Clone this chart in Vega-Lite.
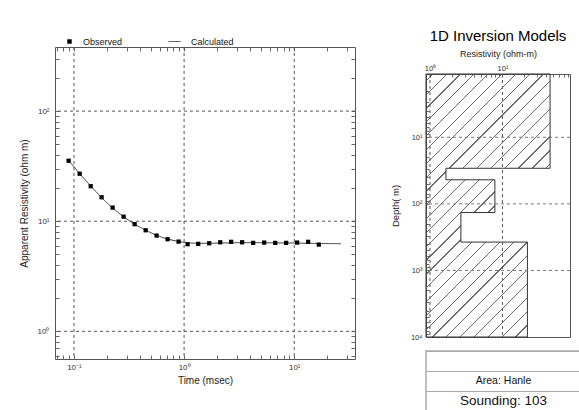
{
  "$schema": "https://vega.github.io/schema/vega-lite/v6.json",
  "background": "white",
  "padding": {"left": 18, "top": 28, "right": 0, "bottom": 0},
  "config": {
    "font": "Liberation Sans",
    "axis": {"domain": false, "labelColor": "#333", "tickColor": "#666", "titleFontWeight": "normal", "titleColor": "#222", "labelOverlap": false, "labelFlush": false, "labelBound": false},
    "title": {"fontWeight": "normal", "font": "Liberation Sans"}
  },
  "datasets": {
    "observed": [
      {"t": 0.0895, "rho": 35.4},
      {"t": 0.1127, "rho": 27.0},
      {"t": 0.1419, "rho": 20.8},
      {"t": 0.1783, "rho": 16.5},
      {"t": 0.2244, "rho": 13.3},
      {"t": 0.2825, "rho": 11.0},
      {"t": 0.3556, "rho": 9.40},
      {"t": 0.4477, "rho": 8.28},
      {"t": 0.5627, "rho": 7.41},
      {"t": 0.7083, "rho": 6.86},
      {"t": 0.8914, "rho": 6.53},
      {"t": 1.076, "rho": 6.18},
      {"t": 1.343, "rho": 6.23},
      {"t": 1.690, "rho": 6.31},
      {"t": 2.128, "rho": 6.44},
      {"t": 2.673, "rho": 6.50},
      {"t": 3.365, "rho": 6.44},
      {"t": 4.236, "rho": 6.36},
      {"t": 5.333, "rho": 6.40},
      {"t": 6.714, "rho": 6.36},
      {"t": 8.441, "rho": 6.36},
      {"t": 10.62, "rho": 6.40},
      {"t": 13.36, "rho": 6.50},
      {"t": 16.71, "rho": 6.14}
    ],
    "calculated": [
      {"t": 0.0859, "rho": 36.4},
      {"t": 0.0895, "rho": 35.2},
      {"t": 0.1127, "rho": 27.1},
      {"t": 0.1419, "rho": 20.9},
      {"t": 0.1783, "rho": 16.4},
      {"t": 0.2244, "rho": 13.2},
      {"t": 0.2825, "rho": 11.0},
      {"t": 0.3556, "rho": 9.4},
      {"t": 0.4477, "rho": 8.3},
      {"t": 0.5627, "rho": 7.45},
      {"t": 0.7083, "rho": 6.9},
      {"t": 0.8914, "rho": 6.55},
      {"t": 1.076, "rho": 6.38},
      {"t": 1.343, "rho": 6.3},
      {"t": 1.690, "rho": 6.3},
      {"t": 2.128, "rho": 6.34},
      {"t": 2.673, "rho": 6.37},
      {"t": 3.365, "rho": 6.39},
      {"t": 4.236, "rho": 6.39},
      {"t": 5.333, "rho": 6.38},
      {"t": 6.714, "rho": 6.36},
      {"t": 8.441, "rho": 6.35},
      {"t": 10.62, "rho": 6.33},
      {"t": 13.36, "rho": 6.3},
      {"t": 16.71, "rho": 6.28},
      {"t": 26.5, "rho": 6.25}
    ],
    "model": [
      {"res": 45.4, "depth": 1.12},
      {"res": 45.4, "depth": 29.2},
      {"res": 1.66, "depth": 29.2},
      {"res": 1.66, "depth": 43.5},
      {"res": 7.86, "depth": 43.5},
      {"res": 7.86, "depth": 135},
      {"res": 2.67, "depth": 135},
      {"res": 2.67, "depth": 375},
      {"res": 22.1, "depth": 375},
      {"res": 22.1, "depth": 10000}
    ],
    "table": [
      {"row": "r1", "label": ""},
      {"row": "r2", "label": "Area: Hanle"},
      {"row": "r3", "label": "Sounding: 103"}
    ]
  },
  "hconcat": [
    {
      "width": 300,
      "height": 312,
      "view": {"stroke": "#555", "strokeWidth": 1},
      "layer": [
        {
          "data": {"values": [{"g": 0.1}, {"g": 1}, {"g": 10}]},
          "mark": {"type": "rule", "strokeDash": [3, 3], "color": "#555", "strokeWidth": 1},
          "encoding": {
            "x": {"field": "g", "type": "quantitative",
              "scale": {"type": "log", "domain": [0.0673, 35.6], "nice": false},
              "axis": {"orient": "top", "values": [0.07,0.08,0.09,0.1,0.2,0.3,0.4,0.5,0.6,0.7,0.8,0.9,1,2,3,4,5,6,7,8,9,10,20,30], "labels": false, "tickSize": -4, "grid": false, "title": null}}
          }
        },
        {
          "data": {"values": [{"g": 1}, {"g": 10}, {"g": 100}]},
          "mark": {"type": "rule", "strokeDash": [3, 3], "color": "#555", "strokeWidth": 1},
          "encoding": {
            "y": {"field": "g", "type": "quantitative",
              "scale": {"type": "log", "domain": [0.561, 382], "nice": false},
              "axis": {"orient": "right", "values": [0.6,0.7,0.8,0.9,1,2,3,4,5,6,7,8,9,10,20,30,40,50,60,70,80,90,100,200,300], "labels": false, "tickSize": -4, "grid": false, "title": null}}
          }
        },
        {
          "data": {"name": "calculated"},
          "mark": {"type": "line", "color": "#333", "strokeWidth": 1, "interpolate": "monotone"},
          "encoding": {
            "x": {"field": "t", "type": "quantitative", "scale": {"type": "log", "domain": [0.0673, 35.6], "nice": false}, "axis": null},
            "y": {"field": "rho", "type": "quantitative", "scale": {"type": "log", "domain": [0.561, 382], "nice": false}, "axis": null},
            "strokeDash": {"datum": "Calculated", "scale": {"domain": ["Calculated"], "range": [[1, 0]]},
              "legend": {"orient": "none", "legendX": 113, "legendY": -12, "title": null, "labelFontSize": 9, "labelColor": "#111",
                "symbolType": "stroke", "symbolSize": 144, "symbolStrokeWidth": 1, "symbolStrokeColor": "#333", "labelOffset": 10}}
          }
        },
        {
          "data": {"name": "observed"},
          "mark": {"type": "point", "filled": true, "color": "#000", "size": 18, "opacity": 1},
          "encoding": {
            "x": {"field": "t", "type": "quantitative",
              "scale": {"type": "log", "domain": [0.0673, 35.6], "nice": false},
              "axis": {"orient": "bottom", "title": "Time (msec)", "titleFontSize": 10, "titlePadding": 4,
                "values": [0.07,0.08,0.09,0.1,0.2,0.3,0.4,0.5,0.6,0.7,0.8,0.9,1,2,3,4,5,6,7,8,9,10,20,30],
                "labelExpr": "datum.value == 0.1 ? '10⁻¹' : datum.value == 1 ? '10⁰' : datum.value == 10 ? '10¹' : ''",
                "labelFontSize": 8, "tickSize": -4, "labelPadding": 8, "grid": false}},
            "y": {"field": "rho", "type": "quantitative",
              "scale": {"type": "log", "domain": [0.561, 382], "nice": false},
              "axis": {"orient": "left", "title": "Apparent Resistivity (ohm m)", "titleFontSize": 10, "titlePadding": 8,
                "values": [0.6,0.7,0.8,0.9,1,2,3,4,5,6,7,8,9,10,20,30,40,50,60,70,80,90,100,200,300],
                "labelExpr": "datum.value == 1 ? '10⁰' : datum.value == 10 ? '10¹' : datum.value == 100 ? '10²' : ''",
                "labelFontSize": 8, "tickSize": -4, "labelPadding": 10, "grid": false}},
            "shape": {"datum": "Observed", "scale": {"domain": ["Observed"], "range": ["square"]},
              "legend": {"orient": "none", "legendX": 10, "legendY": -10, "title": null, "labelFontSize": 9, "labelColor": "#111",
                "symbolSize": 20, "symbolFillColor": "#000", "symbolStrokeWidth": 0, "labelOffset": 9}}
          }
        }
      ],
      "resolve": {"axis": {"x": "independent", "y": "independent"}}
    },
    {
      "vconcat": [
        {
          "title": {"text": "1D Inversion Models", "fontSize": 15, "color": "#000", "offset": -2},
          "width": 144,
          "height": 1,
          "data": {"values": [{"a": 1}]},
          "view": {"stroke": null},
          "mark": {"type": "text", "text": ""},
          "encoding": {}
        },
        {
          "width": 144,
          "height": 263,
          "view": {"stroke": "#555", "strokeWidth": 1},
          "layer": [
            {
              "data": {"name": "model"},
              "mark": {"type": "area", "orient": "horizontal", "stroke": "#333", "strokeWidth": 1,
                "fill": {"gradient": "linear", "x1": 0, "y1": 0, "x2": 0.568, "y2": 1.204,
                  "stops": [
                    {"offset": 0, "color": "rgba(255,255,255,0)"},
                    {"offset": 0.0162, "color": "rgba(255,255,255,0)"}, {"offset": 0.0162, "color": "#6a6a6a"}, {"offset": 0.0194, "color": "#6a6a6a"}, {"offset": 0.0194, "color": "rgba(255,255,255,0)"},
                    {"offset": 0.0519, "color": "rgba(255,255,255,0)"}, {"offset": 0.0519, "color": "#6a6a6a"}, {"offset": 0.0551, "color": "#6a6a6a"}, {"offset": 0.0551, "color": "rgba(255,255,255,0)"},
                    {"offset": 0.0876, "color": "rgba(255,255,255,0)"}, {"offset": 0.0876, "color": "#6a6a6a"}, {"offset": 0.0908, "color": "#6a6a6a"}, {"offset": 0.0908, "color": "rgba(255,255,255,0)"},
                    {"offset": 0.1233, "color": "rgba(255,255,255,0)"}, {"offset": 0.1233, "color": "#6a6a6a"}, {"offset": 0.1265, "color": "#6a6a6a"}, {"offset": 0.1265, "color": "rgba(255,255,255,0)"},
                    {"offset": 0.159, "color": "rgba(255,255,255,0)"}, {"offset": 0.159, "color": "#6a6a6a"}, {"offset": 0.1622, "color": "#6a6a6a"}, {"offset": 0.1622, "color": "rgba(255,255,255,0)"},
                    {"offset": 0.1947, "color": "rgba(255,255,255,0)"}, {"offset": 0.1947, "color": "#6a6a6a"}, {"offset": 0.1979, "color": "#6a6a6a"}, {"offset": 0.1979, "color": "rgba(255,255,255,0)"},
                    {"offset": 0.2304, "color": "rgba(255,255,255,0)"}, {"offset": 0.2304, "color": "#6a6a6a"}, {"offset": 0.2336, "color": "#6a6a6a"}, {"offset": 0.2336, "color": "rgba(255,255,255,0)"},
                    {"offset": 0.2662, "color": "rgba(255,255,255,0)"}, {"offset": 0.2662, "color": "#6a6a6a"}, {"offset": 0.2694, "color": "#6a6a6a"}, {"offset": 0.2694, "color": "rgba(255,255,255,0)"},
                    {"offset": 0.3019, "color": "rgba(255,255,255,0)"}, {"offset": 0.3019, "color": "#6a6a6a"}, {"offset": 0.3051, "color": "#6a6a6a"}, {"offset": 0.3051, "color": "rgba(255,255,255,0)"},
                    {"offset": 0.3376, "color": "rgba(255,255,255,0)"}, {"offset": 0.3376, "color": "#6a6a6a"}, {"offset": 0.3408, "color": "#6a6a6a"}, {"offset": 0.3408, "color": "rgba(255,255,255,0)"},
                    {"offset": 0.3733, "color": "rgba(255,255,255,0)"}, {"offset": 0.3733, "color": "#6a6a6a"}, {"offset": 0.3765, "color": "#6a6a6a"}, {"offset": 0.3765, "color": "rgba(255,255,255,0)"},
                    {"offset": 0.409, "color": "rgba(255,255,255,0)"}, {"offset": 0.409, "color": "#6a6a6a"}, {"offset": 0.4122, "color": "#6a6a6a"}, {"offset": 0.4122, "color": "rgba(255,255,255,0)"},
                    {"offset": 0.4447, "color": "rgba(255,255,255,0)"}, {"offset": 0.4447, "color": "#6a6a6a"}, {"offset": 0.4479, "color": "#6a6a6a"}, {"offset": 0.4479, "color": "rgba(255,255,255,0)"},
                    {"offset": 0.4804, "color": "rgba(255,255,255,0)"}, {"offset": 0.4804, "color": "#6a6a6a"}, {"offset": 0.4836, "color": "#6a6a6a"}, {"offset": 0.4836, "color": "rgba(255,255,255,0)"},
                    {"offset": 0.5162, "color": "rgba(255,255,255,0)"}, {"offset": 0.5162, "color": "#6a6a6a"}, {"offset": 0.5194, "color": "#6a6a6a"}, {"offset": 0.5194, "color": "rgba(255,255,255,0)"},
                    {"offset": 0.5519, "color": "rgba(255,255,255,0)"}, {"offset": 0.5519, "color": "#6a6a6a"}, {"offset": 0.5551, "color": "#6a6a6a"}, {"offset": 0.5551, "color": "rgba(255,255,255,0)"},
                    {"offset": 0.5876, "color": "rgba(255,255,255,0)"}, {"offset": 0.5876, "color": "#6a6a6a"}, {"offset": 0.5908, "color": "#6a6a6a"}, {"offset": 0.5908, "color": "rgba(255,255,255,0)"},
                    {"offset": 0.6233, "color": "rgba(255,255,255,0)"}, {"offset": 0.6233, "color": "#6a6a6a"}, {"offset": 0.6265, "color": "#6a6a6a"}, {"offset": 0.6265, "color": "rgba(255,255,255,0)"},
                    {"offset": 0.659, "color": "rgba(255,255,255,0)"}, {"offset": 0.659, "color": "#6a6a6a"}, {"offset": 0.6622, "color": "#6a6a6a"}, {"offset": 0.6622, "color": "rgba(255,255,255,0)"},
                    {"offset": 0.6947, "color": "rgba(255,255,255,0)"}, {"offset": 0.6947, "color": "#6a6a6a"}, {"offset": 0.6979, "color": "#6a6a6a"}, {"offset": 0.6979, "color": "rgba(255,255,255,0)"},
                    {"offset": 0.7304, "color": "rgba(255,255,255,0)"}, {"offset": 0.7304, "color": "#6a6a6a"}, {"offset": 0.7336, "color": "#6a6a6a"}, {"offset": 0.7336, "color": "rgba(255,255,255,0)"},
                    {"offset": 0.7662, "color": "rgba(255,255,255,0)"}, {"offset": 0.7662, "color": "#6a6a6a"}, {"offset": 0.7694, "color": "#6a6a6a"}, {"offset": 0.7694, "color": "rgba(255,255,255,0)"},
                    {"offset": 0.8019, "color": "rgba(255,255,255,0)"}, {"offset": 0.8019, "color": "#6a6a6a"}, {"offset": 0.8051, "color": "#6a6a6a"}, {"offset": 0.8051, "color": "rgba(255,255,255,0)"},
                    {"offset": 0.8376, "color": "rgba(255,255,255,0)"}, {"offset": 0.8376, "color": "#6a6a6a"}, {"offset": 0.8408, "color": "#6a6a6a"}, {"offset": 0.8408, "color": "rgba(255,255,255,0)"},
                    {"offset": 0.8733, "color": "rgba(255,255,255,0)"}, {"offset": 0.8733, "color": "#6a6a6a"}, {"offset": 0.8765, "color": "#6a6a6a"}, {"offset": 0.8765, "color": "rgba(255,255,255,0)"},
                    {"offset": 0.909, "color": "rgba(255,255,255,0)"}, {"offset": 0.909, "color": "#6a6a6a"}, {"offset": 0.9122, "color": "#6a6a6a"}, {"offset": 0.9122, "color": "rgba(255,255,255,0)"},
                    {"offset": 0.9447, "color": "rgba(255,255,255,0)"}, {"offset": 0.9447, "color": "#6a6a6a"}, {"offset": 0.9479, "color": "#6a6a6a"}, {"offset": 0.9479, "color": "rgba(255,255,255,0)"},
                    {"offset": 0.9804, "color": "rgba(255,255,255,0)"}, {"offset": 0.9804, "color": "#6a6a6a"}, {"offset": 0.9836, "color": "#6a6a6a"}, {"offset": 0.9836, "color": "rgba(255,255,255,0)"},
                    {"offset": 1, "color": "rgba(255,255,255,0)"}
                  ]}},
              "encoding": {
                "x": {"field": "res", "type": "quantitative",
                  "scale": {"type": "log", "domain": [0.881, 85.5], "nice": false},
                  "axis": {"orient": "top", "title": "Resistivity (ohm-m)", "titleFontSize": 9, "titlePadding": 6,
                    "values": [1,2,3,4,5,6,7,8,9,10,20,30,40,50,60,70,80],
                    "labelExpr": "datum.value == 1 ? '10⁰' : datum.value == 10 ? '10¹' : ''",
                    "labelFontSize": 7.5, "tickSize": -3, "labelPadding": 5, "grid": false}},
                "x2": {"datum": 0.881},
                "y": {"field": "depth", "type": "quantitative",
                  "scale": {"type": "log", "domain": [1.12, 10000], "nice": false, "reverse": true},
                  "axis": {"orient": "left", "title": "Depth( m)", "titleFontSize": 9.5, "titlePadding": 10,
                    "values": [2,3,4,5,6,7,8,9,10,20,30,40,50,60,70,80,90,100,200,300,400,500,600,700,800,900,1000,2000,3000,4000,5000,6000,7000,8000,9000,10000],
                    "labelExpr": "datum.value == 10 ? '10¹' : datum.value == 100 ? '10²' : datum.value == 1000 ? '10³' : datum.value == 10000 ? '10⁴' : ''",
                    "labelFontSize": 7.5, "tickSize": -3, "labelPadding": 7, "grid": false}}
              }
            },
            {
              "data": {"values": [{"g": 1}, {"g": 10}]},
              "mark": {"type": "rule", "strokeDash": [3, 3], "color": "#555", "strokeWidth": 1},
              "encoding": {
                "x": {"field": "g", "type": "quantitative", "scale": {"type": "log", "domain": [0.881, 85.5], "nice": false}}
              }
            },
            {
              "data": {"values": [{"g": 10}, {"g": 100}, {"g": 1000}]},
              "mark": {"type": "rule", "strokeDash": [3, 3], "color": "#777", "strokeWidth": 1},
              "encoding": {
                "y": {"field": "g", "type": "quantitative", "scale": {"type": "log", "domain": [1.12, 10000], "nice": false, "reverse": true}}
              }
            }
          ]
        },
        {
          "title": {"text": " ", "fontSize": 6, "offset": 8},
          "width": 155,
          "height": 60,
          "data": {"name": "table"},
          "view": {"stroke": "#aaa", "strokeWidth": 1.5},
          "encoding": {
            "y": {"field": "row", "type": "ordinal", "sort": null, "scale": {"domain": ["r1", "r2", "r3"]},
              "axis": {"labels": false, "ticks": false, "domain": false, "grid": true, "tickBand": "extent", "gridColor": "#aaa", "gridWidth": 1.2, "title": null}},
            "text": {"field": "label"}
          },
          "layer": [
            {"transform": [{"filter": "datum.row == 'r2'"}], "mark": {"type": "text", "color": "#111", "fontSize": 10.5, "align": "center", "baseline": "middle"}},
            {"transform": [{"filter": "datum.row == 'r3'"}], "mark": {"type": "text", "color": "#111", "fontSize": 13.5, "align": "center", "baseline": "middle"}}
          ]
        }
      ],
      "spacing": -5
    }
  ],
  "spacing": 33
}
